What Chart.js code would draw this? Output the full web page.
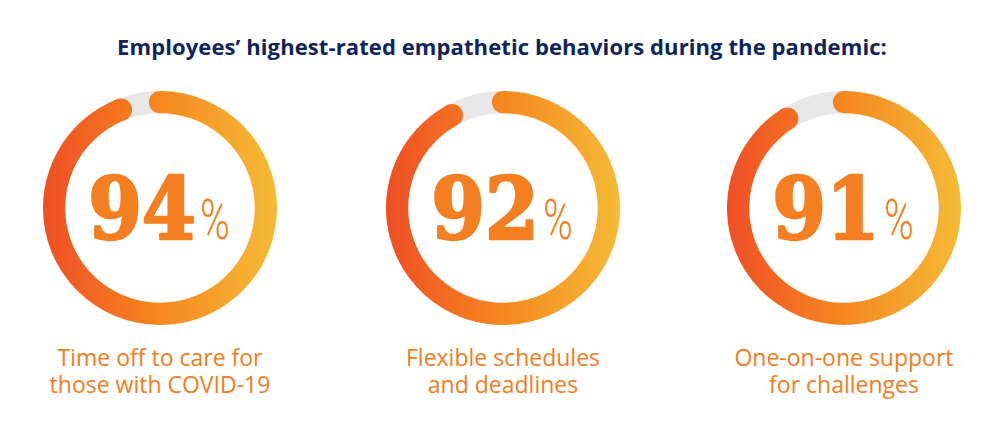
<!DOCTYPE html>
<html lang="en">
<head>
  <meta charset="UTF-8" />
  <title>Empathetic Behaviors</title>
  <script src="https://cdn.jsdelivr.net/npm/chart.js"></script>
  <style>
    body {
      margin: 0;
      width: 1000px;
      height: 434px;
      position: relative;
      background: #fff;
      font-family: 'Open Sans', sans-serif;
      overflow: hidden;
    }
    #title {
      position: absolute;
      left: 0;
      top: 33px;
      width: 1004px;
      text-align: center;
      font-size: 22px;
      line-height: 27px;
      font-weight: 700;
      letter-spacing: 0.1px;
      color: #10245c;
      white-space: nowrap;
    }
    .ring {
      position: absolute;
      top: 83px;
      width: 250px;
      height: 250px;
    }
    .label {
      position: absolute;
      top: 344px;
      width: 320px;
      margin: 0;
      text-align: center;
      font-size: 23px;
      line-height: 27px;
      color: #f47b20;
    }
  </style>
</head>
<body>
  <div id="title">Employees’ highest-rated empathetic behaviors during the pandemic:</div>

  <script>
    const categories = [
      ['Time off to care for', 'those with COVID-19'],
      ['Flexible schedules', 'and deadlines'],
      ['One-on-one support', 'for challenges']
    ];
    const values = [94, 92, 91];
    const centers = [160, 503, 844];

    function ringGradient(chart) {
      const a = chart.chartArea;
      const g = chart.ctx.createLinearGradient(a.left, 0, a.right, 0);
      g.addColorStop(0, '#ef4e25');
      g.addColorStop(0.5, '#f5881f');
      g.addColorStop(1, '#f5bb36');
      return g;
    }

    // round caps on both ends of the value arc
    const capsPlugin = {
      id: 'caps',
      afterDatasetsDraw(chart) {
        const arc = chart.getDatasetMeta(0).data[0];
        const p = arc.getProps(['x', 'y', 'startAngle', 'endAngle', 'innerRadius', 'outerRadius']);
        const r = (p.innerRadius + p.outerRadius) / 2;
        const w = (p.outerRadius - p.innerRadius) / 2;
        const ctx = chart.ctx;
        ctx.save();
        ctx.fillStyle = ringGradient(chart);
        [p.startAngle, p.endAngle].forEach(ang => {
          ctx.beginPath();
          ctx.arc(p.x + r * Math.cos(ang), p.y + r * Math.sin(ang), w, 0, Math.PI * 2);
          ctx.fill();
        });
        ctx.restore();
      }
    };

    const centerText = {
      id: 'centerText',
      afterDraw(chart) {
        const ctx = chart.ctx;
        const arc = chart.getDatasetMeta(0).data[0];
        const num = String(chart.data.datasets[0].data[0]);
        const numFont = 'bold 86px "DejaVu Serif Condensed"';
        const pctFont = '300 56px Roboto';
        const px = 0.72, gap = 4;
        ctx.save();
        ctx.font = numFont;
        const nw = ctx.measureText(num).width;
        ctx.font = pctFont;
        const pw = ctx.measureText('%').width * px;
        const left = arc.x - (nw + gap + pw) / 2 - 1;
        const base = arc.y + 31;
        ctx.fillStyle = '#f47f21';
        ctx.strokeStyle = '#f47f21';
        ctx.lineWidth = 2.5;
        ctx.lineJoin = 'round';
        ctx.textBaseline = 'alphabetic';
        ctx.textAlign = 'left';
        ctx.font = numFont;
        ctx.fillText(num, left, base);
        ctx.strokeText(num, left, base);
        ctx.save();
        ctx.translate(left + nw + gap, base);
        ctx.scale(px, 1);
        ctx.font = pctFont;
        ctx.fillText('%', 0, 0);
        ctx.restore();
        ctx.restore();
      }
    };

    values.forEach((v, i) => {
      const canvas = document.createElement('canvas');
      canvas.className = 'ring';
      canvas.style.left = (centers[i] - 125) + 'px';
      document.body.appendChild(canvas);

      const label = document.createElement('p');
      label.className = 'label';
      label.style.left = (centers[i] - 160) + 'px';
      label.innerHTML = categories[i].join('<br>');
      document.body.appendChild(label);

      new Chart(canvas, {
        type: 'doughnut',
        data: {
          labels: ['Yes', 'Other'],
          datasets: [{
            data: [v, 100 - v],
            backgroundColor: ctx => {
              if (ctx.dataIndex === 1) return '#e8e8e8';
              if (!ctx.chart.chartArea) return '#f5881f';
              return ringGradient(ctx.chart);
            },
            borderWidth: 0,
            hoverOffset: 0
          }]
        },
        options: {
          responsive: false,
          animation: false,
          events: [],
          cutout: '81%',
          layout: { padding: 8 },
          plugins: {
            legend: { display: false },
            tooltip: { enabled: false }
          }
        },
        plugins: [capsPlugin, centerText]
      });
    });
  </script>
</body>
</html>
